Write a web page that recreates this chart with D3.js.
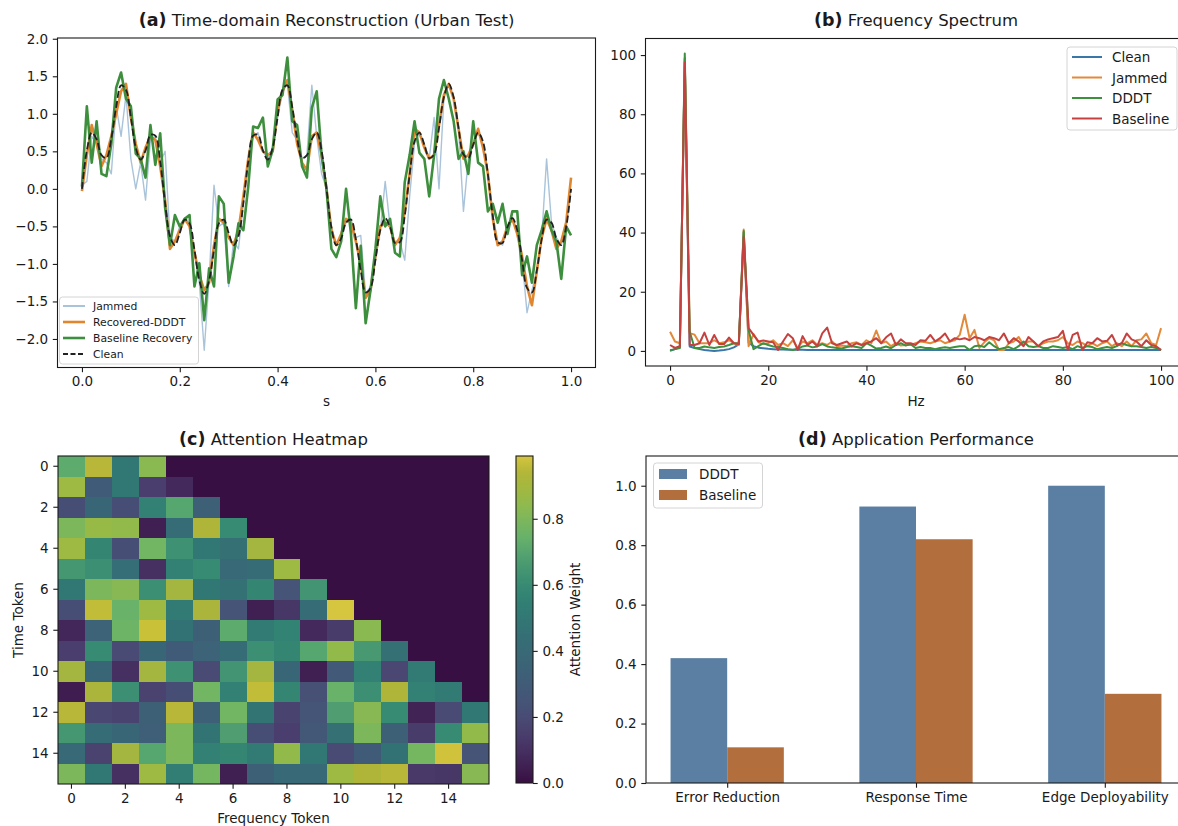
<!DOCTYPE html>
<html>
<head>
<meta charset="utf-8">
<script src="https://cdn.jsdelivr.net/npm/d3@7"></script>
<style>
  body { margin: 0; background: #fff; }
  svg { display: block; font-family: "DejaVu Sans", sans-serif; }
</style>
</head>
<body>
<svg id="fig" width="1178" height="826"></svg>
<script>
// ---------- (a) time-domain samples, one every 0.01 s ----------
const T_STEP = 0.01;
const timeClean = [
  0.00, 0.51, 0.75, 0.66, 0.45, 0.41, 0.67, 1.09, 1.38, 1.32,
  0.95, 0.55, 0.39, 0.51, 0.72, 0.71, 0.36, -0.19, -0.63, -0.75,
  -0.59, -0.41, -0.46, -0.81, -1.22, -1.40, -1.22, -0.81, -0.46, -0.41,
  -0.59, -0.75, -0.63, -0.19, 0.36, 0.71, 0.72, 0.51, 0.39, 0.55,
  0.95, 1.32, 1.38, 1.09, 0.67, 0.41, 0.45, 0.66, 0.75, 0.51,
  0.00, -0.51, -0.75, -0.66, -0.45, -0.41, -0.67, -1.09, -1.38, -1.32,
  -0.95, -0.55, -0.39, -0.51, -0.72, -0.71, -0.36, 0.19, 0.63, 0.75,
  0.59, 0.41, 0.46, 0.81, 1.22, 1.40, 1.22, 0.81, 0.46, 0.41,
  0.59, 0.75, 0.63, 0.19, -0.36, -0.71, -0.72, -0.51, -0.39, -0.55,
  -0.95, -1.32, -1.38, -1.09, -0.67, -0.41, -0.45, -0.66, -0.75, -0.51,
  0.00
];
const timeJammed = [
  0.05, 0.10, 0.70, 0.60, 0.40, 0.35, 0.20, 1.10, 0.70, 1.25,
  0.40, 0.00, 0.35, -0.15, 0.65, 0.70, 0.35, 0.50, -0.65, -0.70,
  -0.50, -0.40, -0.45, -0.85, -1.25, -2.15, -1.20, 0.05, -0.50, -0.45,
  -1.30, -0.70, -0.80, -0.20, 0.35, 0.70, 0.75, 0.50, 0.40, 0.55,
  0.95, 1.30, 1.40, 0.75, 0.65, 0.40, 0.45, 1.38, 0.70, 0.20,
  0.00, -0.50, -0.75, -0.65, -0.45, -0.40, -0.65, -0.62, -1.40, -1.30,
  -0.95, -0.55, 0.10, -0.50, -0.70, -0.70, -0.95, -0.10, 0.60, 0.75,
  0.60, 0.40, 0.95, 0.00, 1.20, 1.40, 1.20, 0.80, -0.30, 0.40,
  0.60, 0.75, 0.60, 0.20, -0.35, -0.70, -0.75, -0.50, -0.40, -0.55,
  -0.95, -1.65, -1.35, -1.10, -0.65, 0.40, -0.45, -0.65, -0.75, -0.50,
  0.00
];
const timeDDDT = [
  -0.03, 0.45, 0.85, 0.60, 0.30, 0.45, 0.70, 1.00, 1.30, 1.40,
  0.95, 0.60, 0.35, 0.55, 0.70, 0.65, 0.30, -0.15, -0.80, -0.70,
  -0.55, -0.40, -0.50, -0.85, -1.15, -1.35, -1.25, -0.75, -0.40, -0.45,
  -0.65, -0.75, -0.55, -0.10, 0.40, 0.75, 0.65, 0.50, 0.45, 0.50,
  1.05, 1.30, 1.45, 1.05, 0.60, 0.35, 0.25, 0.70, 0.75, 0.45,
  0.00, -0.55, -0.75, -0.60, -0.40, -0.45, -0.70, -1.00, -1.45, -1.35,
  -0.90, -0.50, -0.45, -0.50, -0.75, -0.65, -0.30, 0.20, 0.80, 0.75,
  0.55, 0.40, 0.45, 0.85, 1.25, 1.40, 1.20, 0.80, 0.40, 0.45,
  0.60, 0.80, 0.55, 0.20, -0.40, -0.75, -0.70, -0.50, -0.40, -0.60,
  -0.90, -1.30, -1.55, -1.10, -0.65, -0.40, -0.55, -0.80, -0.70, -0.45,
  0.15
];
const timeBaseline = [
  0.03, 1.10, 0.35, 0.90, 0.20, 0.17, 0.60, 1.35, 1.55, 1.20,
  1.10, 0.47, 0.40, 0.15, 0.85, 0.32, 0.74, -0.25, -0.75, -0.35,
  -0.50, -0.40, -0.35, -1.30, -0.99, -1.75, -1.06, -1.30, -0.10, -0.20,
  -1.25, -0.90, -0.46, -0.55, 0.03, 0.83, 0.81, 0.95, 0.30, 0.52,
  1.19, 1.25, 1.75, 0.90, 0.85, 0.30, 0.15, 1.08, 1.30, 0.45,
  0.00, -0.80, -0.91, -0.70, 0.00, -0.60, -1.59, -0.76, -1.79, -1.35,
  -0.80, -0.10, -0.50, -0.40, -0.85, -0.90, 0.09, 0.45, 0.90, 0.48,
  0.40, -0.10, 0.45, 1.20, 1.45, 1.20, 0.90, 0.40, 0.50, 0.20,
  0.90, 0.35, 0.30, -0.30, -0.20, -0.45, -0.20, -0.60, -0.30, -0.30,
  -1.15, -0.90, -1.25, -0.75, -0.55, -0.30, -0.55, -0.70, -1.20, -0.50,
  -0.62
];

// ---------- (b) magnitude spectrum, one bin per Hz ----------
const F_STEP = 1;
const specClean = [
  0.0, 0.6, 1.2, 99.0, 1.5, 1.0, 0.6, 0.3, 0.1, 0.0,
  0.1, 0.3, 0.6, 1.2, 2.2, 40.0, 2.8, 1.6, 1.1, 0.9,
  0.7, 0.6, 0.5, 0.45, 0.4, 0.4, 0.38, 0.36, 0.35, 0.35,
  0.34, 0.33, 0.33, 0.32, 0.32, 0.31, 0.31, 0.3, 0.3, 0.3,
  0.3, 0.3, 0.3, 0.3, 0.3, 0.3, 0.3, 0.3, 0.3, 0.3,
  0.3, 0.3, 0.3, 0.3, 0.3, 0.3, 0.3, 0.3, 0.3, 0.3,
  0.3, 0.3, 0.3, 0.3, 0.3, 0.3, 0.3, 0.3, 0.3, 0.3,
  0.3, 0.3, 0.3, 0.3, 0.3, 0.3, 0.3, 0.3, 0.3, 0.3,
  0.3, 0.3, 0.3, 0.3, 0.3, 0.3, 0.3, 0.3, 0.3, 0.3,
  0.3, 0.3, 0.3, 0.3, 0.3, 0.3, 0.3, 0.3, 0.3, 0.3,
  0.3
];
const specJammed = [
  6.5, 3.2, 2.6, 98.5, 6.0, 5.5, 2.6, 2.6, 2.6, 3.6,
  2.6, 2.9, 3.6, 2.6, 2.0, 41.0, 1.6, 5.7, 2.9, 2.3,
  2.6, 3.6, 2.0, 2.6, 1.6, 3.6, 1.0, 3.2, 2.6, 3.6,
  2.0, 2.6, 2.0, 3.2, 1.6, 1.8, 1.6, 2.6, 2.9, 2.0,
  3.6, 2.6, 6.9, 2.6, 3.2, 1.6, 2.6, 1.8, 2.0, 2.0,
  2.6, 3.2, 2.9, 2.6, 3.2, 3.6, 2.6, 3.2, 3.6, 5.4,
  12.2, 4.3, 7.1, 1.0, 2.9, 4.3, 3.6, 0.3, 0.3, 2.6,
  3.2, 4.7, 2.0, 3.2, 3.2, 1.6, 2.6, 3.2, 3.2, 3.6,
  4.7, 2.6, 2.0, 3.2, 2.6, 1.6, 2.6, 1.6, 2.6, 3.2,
  1.6, 2.6, 1.6, 3.2, 1.6, 3.6, 3.9, 5.9, 2.6, 2.0,
  7.7
];
const specDDDT = [
  0.2, 0.6, 1.0, 100.5, 6.5, 1.0, 1.0, 1.5, 1.2, 1.0,
  1.3, 1.5, 2.0, 2.6, 2.6, 40.5, 7.0, 0.6, 1.6, 2.6,
  2.0, 1.5, 1.3, 1.0, 0.6, 0.3, 0.7, 1.5, 1.8, 1.2,
  1.5, 2.3, 1.5, 1.2, 1.0, 0.8, 1.3, 1.6, 1.3, 1.0,
  2.6, 1.8, 0.8, 1.0, 1.5, 0.9, 2.0, 2.6, 1.8, 2.3,
  1.0, 1.3, 1.0, 1.0, 0.6, 1.0, 1.2, 1.0, 1.3, 1.6,
  1.6, 0.3, 1.6, 1.8, 1.3, 2.9, 1.6, 0.6, 1.0, 1.3,
  0.6, 1.6, 3.2, 1.6, 1.3, 1.6, 1.0, 1.0, 1.6, 1.3,
  1.0, 1.3, 0.6, 1.6, 1.0, 1.6, 1.3, 0.6, 1.0, 1.3,
  1.0, 1.6, 2.6, 2.0, 1.6, 1.6, 1.3, 1.0, 1.3, 1.0,
  0.3
];
const specBaseline = [
  2.0, 1.0, 1.6, 97.5, 2.0, 2.0, 2.6, 6.2, 2.0, 5.4,
  2.3, 2.3, 4.5, 2.6, 2.3, 38.5, 7.7, 5.4, 3.2, 3.5,
  3.2, 2.9, 0.3, 3.2, 5.7, 4.3, 0.3, 5.0, 2.0, 3.2,
  1.6, 5.9, 7.9, 2.6, 2.0, 2.6, 3.2, 1.6, 2.6, 2.0,
  2.6, 3.2, 4.3, 2.6, 4.6, 5.9, 2.0, 3.9, 2.6, 2.6,
  2.0, 3.6, 3.4, 5.4, 3.2, 4.3, 5.9, 3.2, 4.3, 3.9,
  4.3, 3.6, 4.7, 4.3, 3.6, 4.7, 4.3, 3.6, 5.9, 2.6,
  4.3, 3.2, 1.6, 4.7, 3.2, 1.6, 3.2, 3.9, 4.3, 4.7,
  6.8, 0.3, 5.4, 6.2, 0.3, 2.9, 2.6, 4.3, 3.2, 3.4,
  5.4, 2.0, 2.6, 5.9, 3.9, 3.2, 1.6, 3.6, 2.0, 1.6,
  0.3
];

// ---------- (c) attention weights, rows = time token, cols = frequency token ----------
const attention = [
  [0.72, 0.95, 0.50, 0.83, 0, 0, 0, 0, 0, 0, 0, 0, 0, 0, 0, 0],
  [0.88, 0.30, 0.50, 0.15, 0.08, 0, 0, 0, 0, 0, 0, 0, 0, 0, 0, 0],
  [0.22, 0.38, 0.22, 0.55, 0.70, 0.33, 0, 0, 0, 0, 0, 0, 0, 0, 0, 0],
  [0.80, 0.86, 0.85, 0.05, 0.42, 0.93, 0.60, 0, 0, 0, 0, 0, 0, 0, 0, 0],
  [0.88, 0.58, 0.22, 0.77, 0.63, 0.50, 0.45, 0.90, 0, 0, 0, 0, 0, 0, 0, 0],
  [0.65, 0.62, 0.43, 0.10, 0.55, 0.60, 0.40, 0.42, 0.88, 0, 0, 0, 0, 0, 0, 0],
  [0.50, 0.80, 0.82, 0.62, 0.90, 0.50, 0.46, 0.58, 0.25, 0.64, 0, 0, 0, 0, 0, 0],
  [0.22, 0.96, 0.75, 0.88, 0.52, 0.92, 0.25, 0.05, 0.12, 0.42, 0.99, 0, 0, 0, 0, 0],
  [0.07, 0.35, 0.76, 0.97, 0.47, 0.33, 0.72, 0.52, 0.56, 0.08, 0.14, 0.83, 0, 0, 0, 0],
  [0.15, 0.60, 0.20, 0.38, 0.30, 0.35, 0.42, 0.62, 0.58, 0.70, 0.85, 0.66, 0.45, 0, 0, 0],
  [0.90, 0.38, 0.10, 0.90, 0.63, 0.20, 0.64, 0.90, 0.38, 0.05, 0.28, 0.55, 0.18, 0.52, 0, 0],
  [0.04, 0.92, 0.62, 0.16, 0.22, 0.77, 0.55, 0.96, 0.58, 0.23, 0.75, 0.62, 0.93, 0.55, 0.52, 0],
  [0.95, 0.18, 0.17, 0.33, 0.95, 0.33, 0.77, 0.48, 0.17, 0.26, 0.68, 0.82, 0.60, 0.06, 0.20, 0.50],
  [0.65, 0.42, 0.38, 0.32, 0.80, 0.48, 0.68, 0.22, 0.15, 0.27, 0.45, 0.80, 0.33, 0.14, 0.60, 0.85],
  [0.40, 0.16, 0.90, 0.70, 0.80, 0.55, 0.58, 0.52, 0.85, 0.50, 0.20, 0.30, 0.47, 0.78, 0.98, 0.25],
  [0.80, 0.50, 0.10, 0.88, 0.53, 0.78, 0.05, 0.33, 0.40, 0.40, 0.88, 0.93, 0.95, 0.13, 0.12, 0.82]
];

// ---------- (d) application performance ----------
const perfCategories = ['Error Reduction', 'Response Time', 'Edge Deployability'];
const perfDDDT = [0.42, 0.93, 1.00];
const perfBaseline = [0.12, 0.82, 0.30];

// ---------- drawing ----------
const INK = '#1a1a1a';
const FONT = 13.5;
const TICK = 4.7;
const PAD = 4.7;

const svg = d3.select('#fig');
svg.append('rect').attr('width', 1178).attr('height', 826).attr('fill', '#fff');

// The reference colours are a little washed out compared with stock viridis
function mutedViridis(t) {
  const c = d3.hsl(d3.interpolateViridis(t));
  c.s *= 0.65;
  c.l *= 0.95;
  return c.formatHex();
}

function styleAxis(g) {
  g.attr('font-size', FONT).attr('font-family', '"DejaVu Sans", sans-serif');
  g.select('.domain').remove();
  g.selectAll('.tick line').attr('stroke', INK).attr('stroke-width', 1.1);
  g.selectAll('.tick text').attr('fill', INK);
}

function frame(x0, y0, x1, y1) {
  svg.append('rect')
    .attr('x', x0).attr('y', y0)
    .attr('width', x1 - x0).attr('height', y1 - y0)
    .attr('fill', 'none').attr('stroke', INK).attr('stroke-width', 1.1);
}

function title(cx, y, tag, text) {
  const t = svg.append('text')
    .attr('x', cx).attr('y', y)
    .attr('text-anchor', 'middle')
    .attr('font-size', 16.5)
    .attr('fill', INK);
  t.append('tspan').attr('font-weight', 'bold').attr('font-size', 17.5).text(tag);
  t.append('tspan').text(' ' + text);
}

function label(x, y, text, rotate) {
  const t = svg.append('text')
    .attr('text-anchor', 'middle')
    .attr('font-size', FONT)
    .attr('fill', INK)
    .text(text);
  if (rotate) t.attr('transform', `translate(${x},${y}) rotate(${rotate})`);
  else t.attr('x', x).attr('y', y);
}

// ===== (a) Time-domain reconstruction =====
const A = { l: 57.5, r: 595.5, t: 38, b: 367.5 };
const xA = d3.scaleLinear().domain([-0.05, 1.05]).range([A.l, A.r]);
const yA = d3.scaleLinear().domain([-2.38, 2.01]).range([A.b, A.t]);

const lineA = d3.line().x((d, i) => xA(i * T_STEP)).y(d => yA(d));
const smoothA = d3.line().x((d, i) => xA(i * T_STEP)).y(d => yA(d)).curve(d3.curveCatmullRom);

const seriesA = [
  { name: 'Jammed', values: timeJammed, color: '#a9c4da', width: 1.4, gen: lineA },
  { name: 'Recovered-DDDT', values: timeDDDT, color: '#e0862f', width: 2.6, gen: lineA },
  { name: 'Baseline Recovery', values: timeBaseline, color: '#3d8f3d', width: 2.6, gen: lineA },
  { name: 'Clean', values: timeClean, color: '#222', width: 1.8, gen: smoothA, dash: '7,3' }
];

seriesA.forEach(s => {
  svg.append('path')
    .attr('d', s.gen(s.values))
    .attr('fill', 'none')
    .attr('stroke', s.color)
    .attr('stroke-width', s.width)
    .attr('stroke-linejoin', 'round')
    .attr('stroke-dasharray', s.dash || null);
});

svg.append('g').attr('transform', `translate(0,${A.b})`)
  .call(d3.axisBottom(xA).tickValues([0, 0.2, 0.4, 0.6, 0.8, 1.0]).tickFormat(d3.format('.1f')).tickSize(TICK).tickPadding(PAD))
  .call(styleAxis);
svg.append('g').attr('transform', `translate(${A.l},0)`)
  .call(d3.axisLeft(yA).tickValues(d3.range(-2, 2.01, 0.5)).tickFormat(d3.format('.1f')).tickSize(TICK).tickPadding(PAD))
  .call(styleAxis);
frame(A.l, A.t, A.r, A.b);
title((A.l + A.r) / 2, 26, '(a)', 'Time-domain Reconstruction (Urban Test)');
label((A.l + A.r) / 2, 406, 's');

// legend (a)
const legA = svg.append('g').attr('font-size', 10.8).attr('fill', INK);
legA.append('rect').attr('x', 59.5).attr('y', 297).attr('width', 139).attr('height', 67)
  .attr('rx', 3).attr('fill', '#fff').attr('fill-opacity', 0.8).attr('stroke', '#d4d4d4');
seriesA.forEach((s, i) => {
  const y = 306 + i * 16;
  legA.append('line').attr('x1', 63).attr('x2', 85).attr('y1', y).attr('y2', y)
    .attr('stroke', s.color).attr('stroke-width', s.name === 'Jammed' ? 2 : s.width)
    .attr('stroke-dasharray', s.dash ? '5,2.5' : null);
  legA.append('text').attr('x', 93).attr('y', y + 4).text(s.name);
});

// ===== (b) Frequency spectrum =====
const B = { l: 645.5, r: 1185.6, t: 38.5, b: 366 };
const xB = d3.scaleLinear().domain([-5, 105]).range([B.l, B.r]);
const yB = d3.scaleLinear().domain([-5.1, 105.6]).range([B.b, B.t]);
const lineB = d3.line().x((d, i) => xB(i * F_STEP)).y(d => yB(d));

const seriesB = [
  { name: 'Clean', values: specClean, color: '#3b76a8' },
  { name: 'Jammed', values: specJammed, color: '#e3893b' },
  { name: 'DDDT', values: specDDDT, color: '#3d913d' },
  { name: 'Baseline', values: specBaseline, color: '#c5413f' }
];
seriesB.forEach(s => {
  svg.append('path')
    .attr('d', lineB(s.values))
    .attr('fill', 'none')
    .attr('stroke', s.color)
    .attr('stroke-width', 2)
    .attr('stroke-linejoin', 'round');
});

svg.append('g').attr('transform', `translate(0,${B.b})`)
  .call(d3.axisBottom(xB).tickValues(d3.range(0, 101, 20)).tickSize(TICK).tickPadding(PAD))
  .call(styleAxis);
svg.append('g').attr('transform', `translate(${B.l},0)`)
  .call(d3.axisLeft(yB).tickValues(d3.range(0, 101, 20)).tickSize(TICK).tickPadding(PAD))
  .call(styleAxis);
frame(B.l, B.t, B.r, B.b);
title(916, 26, '(b)', 'Frequency Spectrum');
label(916, 406, 'Hz');

const legB = svg.append('g').attr('font-size', FONT).attr('fill', INK);
legB.append('rect').attr('x', 1067).attr('y', 47).attr('width', 110).attr('height', 83)
  .attr('rx', 3).attr('fill', '#fff').attr('fill-opacity', 0.8).attr('stroke', '#d4d4d4');
seriesB.forEach((s, i) => {
  const y = 57 + i * 20.5;
  legB.append('line').attr('x1', 1072).attr('x2', 1102).attr('y1', y).attr('y2', y)
    .attr('stroke', s.color).attr('stroke-width', 2);
  legB.append('text').attr('x', 1112).attr('y', y + 5).text(s.name);
});

// ===== (c) Attention heatmap =====
const C = { l: 58, r: 489, t: 456, b: 784 };
const nTok = attention.length;
const xC = d3.scaleBand().domain(d3.range(nTok)).range([C.l, C.r]);
const yC = d3.scaleBand().domain(d3.range(nTok)).range([C.t, C.b]);
const vmax = d3.max(attention.flat());
const color = d3.scaleSequential(mutedViridis).domain([0, vmax]);

const cells = [];
attention.forEach((row, i) => row.forEach((v, j) => cells.push({ i, j, v })));
// crisp edges + a little overlap so no seams show between equal cells
svg.append('g')
  .attr('shape-rendering', 'crispEdges')
  .selectAll('rect')
  .data(cells)
  .join('rect')
  .attr('x', d => xC(d.j))
  .attr('y', d => yC(d.i))
  .attr('width', d => Math.min(xC.bandwidth() + 1, C.r - xC(d.j)))
  .attr('height', d => Math.min(yC.bandwidth() + 1, C.b - yC(d.i)))
  .attr('fill', d => color(d.v));

svg.append('g').attr('transform', `translate(0,${C.b})`)
  .call(d3.axisBottom(xC).tickValues(d3.range(0, nTok, 2)).tickSize(TICK).tickPadding(PAD))
  .call(styleAxis);
svg.append('g').attr('transform', `translate(${C.l},0)`)
  .call(d3.axisLeft(yC).tickValues(d3.range(0, nTok, 2)).tickSize(TICK).tickPadding(PAD))
  .call(styleAxis);
frame(C.l, C.t, C.r, C.b);
title((C.l + C.r) / 2, 445, '(c)', 'Attention Heatmap');
label((C.l + C.r) / 2, 823, 'Frequency Token');
label(23, (C.t + C.b) / 2, 'Time Token', -90);

// colorbar
const CB = { l: 516, r: 533, t: 456, b: 783 };
const grad = svg.append('defs').append('linearGradient')
  .attr('id', 'cbar').attr('x1', 0).attr('y1', 1).attr('x2', 0).attr('y2', 0);
d3.range(0, 1.0001, 0.05).forEach(f => {
  grad.append('stop').attr('offset', f).attr('stop-color', color(f * vmax));
});
svg.append('rect').attr('x', CB.l).attr('y', CB.t)
  .attr('width', CB.r - CB.l).attr('height', CB.b - CB.t)
  .attr('fill', 'url(#cbar)');
const yCB = d3.scaleLinear().domain([0, vmax]).range([CB.b, CB.t]);
svg.append('g').attr('transform', `translate(${CB.r},0)`)
  .call(d3.axisRight(yCB).tickValues([0, 0.2, 0.4, 0.6, 0.8]).tickFormat(d3.format('.1f')).tickSize(TICK).tickPadding(PAD))
  .call(styleAxis);
frame(CB.l, CB.t, CB.r, CB.b);
label(580, (CB.t + CB.b) / 2, 'Attention Weight', -90);

// ===== (d) Application performance =====
const D = { l: 646, r: 1186, t: 456, b: 783 };
const BAR_W = 0.3;
const xD = d3.scaleLinear().domain([-0.43, 2.43]).range([D.l, D.r]);
const yD = d3.scaleLinear().domain([0, 1.1]).range([D.b, D.t]);

const barsD = [
  { name: 'DDDT', values: perfDDDT, color: '#5a7fa2', offset: -BAR_W },
  { name: 'Baseline', values: perfBaseline, color: '#b36e3e', offset: 0 }
];
barsD.forEach(s => {
  svg.append('g').selectAll('rect')
    .data(s.values)
    .join('rect')
    .attr('x', (d, i) => xD(i + s.offset))
    .attr('y', d => yD(d))
    .attr('width', xD(BAR_W) - xD(0))
    .attr('height', d => yD(0) - yD(d))
    .attr('fill', s.color);
});

svg.append('g').attr('transform', `translate(0,${D.b})`)
  .call(d3.axisBottom(xD).tickValues(d3.range(perfCategories.length)).tickFormat(i => perfCategories[i]).tickSize(TICK).tickPadding(PAD))
  .call(styleAxis);
svg.append('g').attr('transform', `translate(${D.l},0)`)
  .call(d3.axisLeft(yD).tickValues([0, 0.2, 0.4, 0.6, 0.8, 1.0]).tickFormat(d3.format('.1f')).tickSize(TICK).tickPadding(PAD))
  .call(styleAxis);
frame(D.l, D.t, D.r, D.b);
title(916, 445, '(d)', 'Application Performance');

const legD = svg.append('g').attr('font-size', FONT).attr('fill', INK);
legD.append('rect').attr('x', 653.5).attr('y', 463).attr('width', 109).attr('height', 45)
  .attr('rx', 3).attr('fill', '#fff').attr('fill-opacity', 0.8).attr('stroke', '#d4d4d4');
barsD.forEach((s, i) => {
  const y = 474 + i * 21;
  legD.append('rect').attr('x', 659).attr('y', y - 5).attr('width', 28).attr('height', 10).attr('fill', s.color);
  legD.append('text').attr('x', 699).attr('y', y + 5).text(s.name);
});
</script>
</body>
</html>
